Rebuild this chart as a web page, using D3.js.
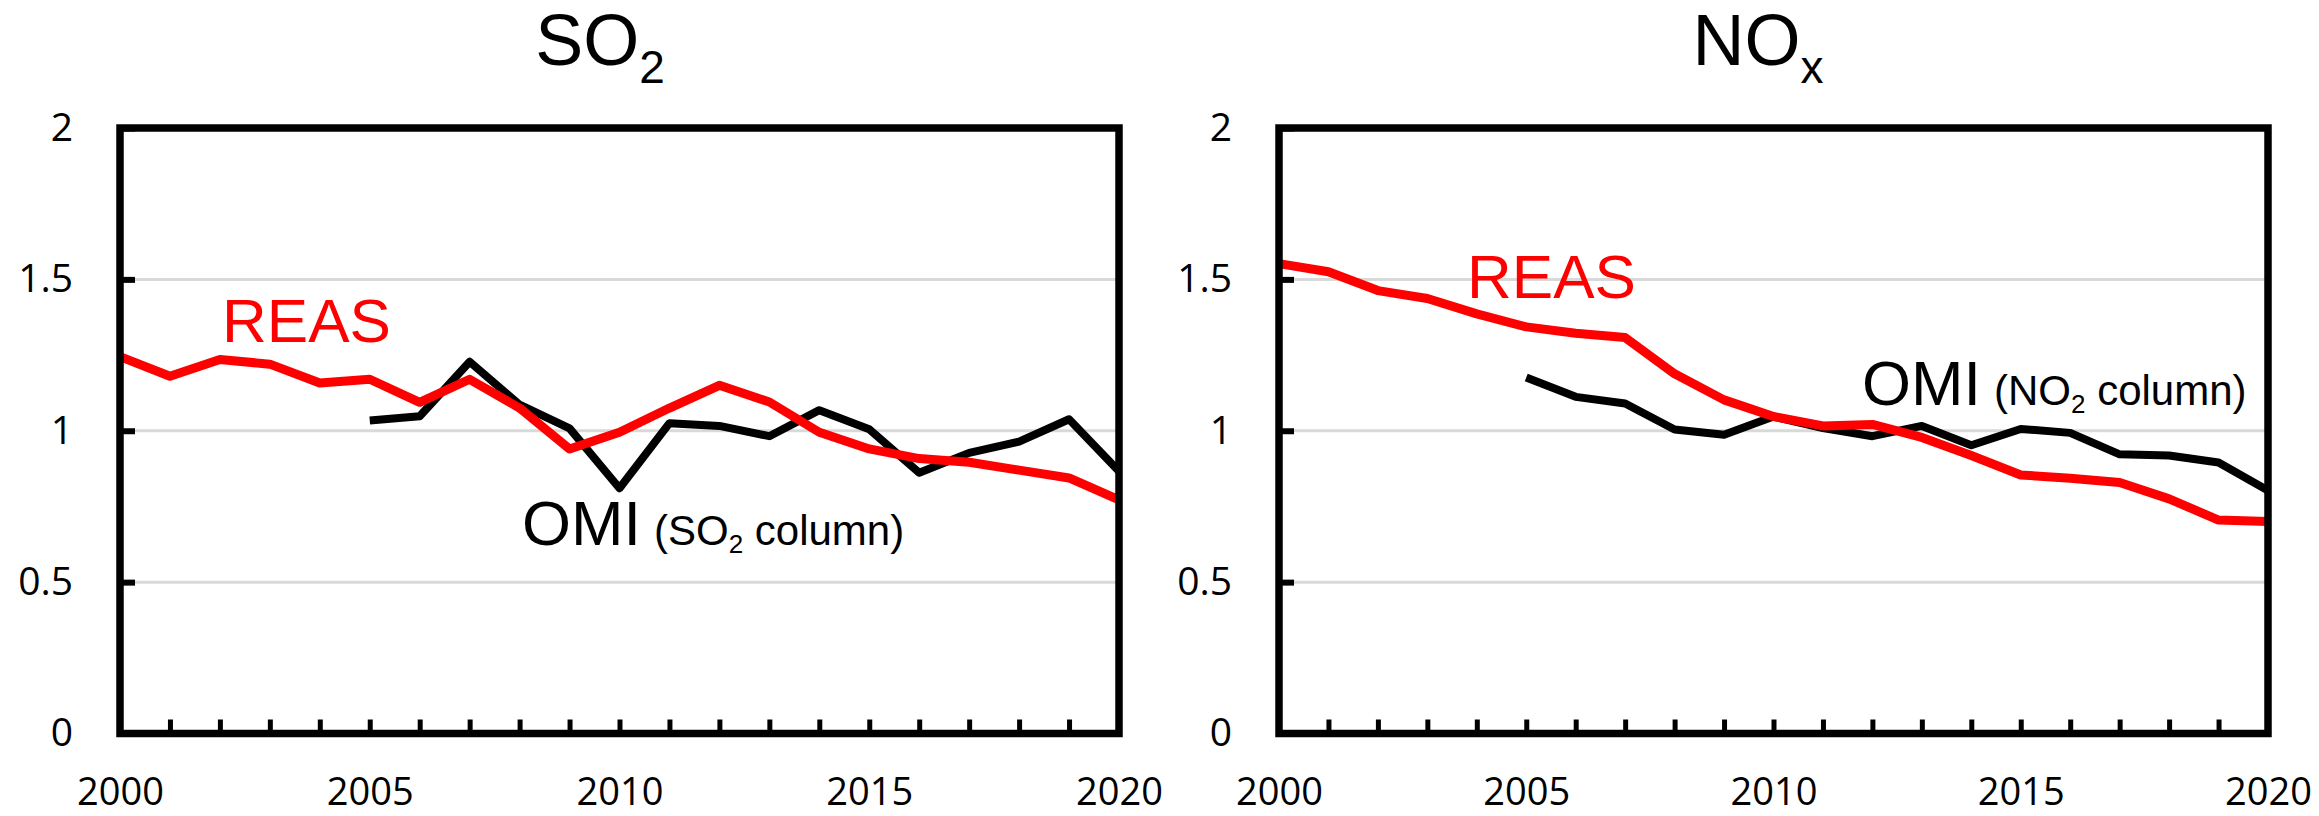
<!DOCTYPE html>
<html>
<head>
<meta charset="utf-8">
<script src="https://cdn.jsdelivr.net/npm/d3@7"></script>
<style>
  html, body { margin: 0; padding: 0; background: #fff; }
  svg { display: block; }
</style>
</head>
<body>
<svg id="chart" width="2319" height="816"></svg>
<script>
// Emission trend indices, 2000-2020
const years = [2000, 2001, 2002, 2003, 2004, 2005, 2006, 2007, 2008, 2009, 2010,
               2011, 2012, 2013, 2014, 2015, 2016, 2017, 2018, 2019, 2020];
const omiYears = [2005, 2006, 2007, 2008, 2009, 2010, 2011, 2012,
                  2013, 2014, 2015, 2016, 2017, 2018, 2019, 2020];

const so2Reas = [1.245, 1.180, 1.235, 1.220, 1.158, 1.170, 1.094, 1.170, 1.075, 0.940, 0.995,
                 1.075, 1.150, 1.095, 0.995, 0.940, 0.908, 0.896, 0.870, 0.844, 0.772];
const so2Omi  = [1.034, 1.048, 1.228, 1.086, 1.008, 0.810, 1.025, 1.016,
                 0.982, 1.068, 1.005, 0.861, 0.927, 0.964, 1.038, 0.866];

const noxReas = [1.552, 1.525, 1.463, 1.437, 1.386, 1.343, 1.322, 1.308, 1.188, 1.102, 1.047,
                 1.016, 1.021, 0.978, 0.918, 0.854, 0.843, 0.829, 0.775, 0.705, 0.700];
const noxOmi  = [1.176, 1.112, 1.090, 1.004, 0.987, 1.047, 1.009, 0.982,
                 1.016, 0.952, 1.006, 0.993, 0.922, 0.918, 0.895, 0.803];

const yTicks = [0, 0.5, 1, 1.5, 2];
const gridValues = [0.5, 1, 1.5];
const xLabelYears = [2000, 2005, 2010, 2015, 2020];

const svg = d3.select("#chart");
const SANS = "'Liberation Sans', Arial, sans-serif";
const TICKFONT = "'Open Sans', 'DejaVu Sans', sans-serif";

function drawPanel(opt) {
  const x = d3.scaleLinear().domain([2000, 2020]).range([opt.x0, opt.x1]);
  const y = d3.scaleLinear().domain([0, 2]).range([733.5, 128]);
  const g = svg.append("g");

  // horizontal gridlines
  g.append("g").selectAll("line").data(gridValues).join("line")
    .attr("x1", x(2000)).attr("x2", x(2020))
    .attr("y1", d => y(d)).attr("y2", d => y(d))
    .attr("stroke", "#d9d9d9").attr("stroke-width", 3);

  const line = d3.line().x(d => x(d[0])).y(d => y(d[1]));

  // satellite column series
  g.append("path")
    .datum(omiYears.map((yr, i) => [yr, opt.omi[i]]))
    .attr("d", line).attr("fill", "none")
    .attr("stroke", "#000").attr("stroke-width", 8)
    .attr("stroke-linejoin", "round").attr("stroke-linecap", "butt");

  // inventory series
  g.append("path")
    .datum(years.map((yr, i) => [yr, opt.reas[i]]))
    .attr("d", line).attr("fill", "none")
    .attr("stroke", "#ff0000").attr("stroke-width", 9)
    .attr("stroke-linejoin", "round").attr("stroke-linecap", "butt");

  // frame
  g.append("rect")
    .attr("x", x(2000)).attr("y", y(2))
    .attr("width", x(2020) - x(2000)).attr("height", y(0) - y(2))
    .attr("fill", "none").attr("stroke", "#000").attr("stroke-width", 7.5);

  // y axis: inward ticks and labels
  const yAxis = g.append("g").attr("transform", `translate(${x(2000)},0)`)
    .call(d3.axisLeft(y).tickValues(yTicks).tickFormat(d3.format("~g"))
      .tickSizeInner(-15).tickSizeOuter(0).tickPadding(47));
  yAxis.select(".domain").remove();
  yAxis.selectAll(".tick line").attr("stroke", "#000").attr("stroke-width", 6);
  yAxis.selectAll(".tick text").attr("font-family", TICKFONT).attr("font-size", 39).attr("fill", "#000");

  // x axis: yearly inward ticks
  const xMinor = g.append("g").attr("transform", `translate(0,${y(0)})`)
    .call(d3.axisBottom(x).tickValues(years).tickFormat("")
      .tickSizeInner(-14).tickSizeOuter(0));
  xMinor.select(".domain").remove();
  xMinor.selectAll(".tick line").attr("stroke", "#000").attr("stroke-width", 5);

  // x axis labels every five years
  const xLab = g.append("g").attr("transform", `translate(0,${y(0)})`)
    .call(d3.axisBottom(x).tickValues(xLabelYears).tickFormat(d3.format("d"))
      .tickSize(0).tickPadding(45));
  xLab.select(".domain").remove();
  xLab.selectAll(".tick text").attr("font-family", TICKFONT).attr("font-size", 38)
    .attr("fill", "#000").attr("dy", "0.7em");

  // panel title with subscript
  const t = svg.append("text").attr("x", opt.titleX).attr("y", 65)
    .attr("text-anchor", "middle").attr("font-family", SANS).attr("fill", "#000");
  t.append("tspan").attr("font-size", 72).text(opt.title);
  t.append("tspan").attr("font-size", 46).attr("dy", 18).text(opt.titleSub);

  // series labels
  svg.append("text").attr("x", opt.reasPos[0]).attr("y", opt.reasPos[1])
    .attr("font-family", SANS).attr("font-size", 62).attr("fill", "#ff0000").text("REAS");

  svg.append("text").attr("x", opt.omiPos[0]).attr("y", opt.omiPos[1])
    .attr("font-family", SANS).attr("font-size", 63).attr("fill", "#000").text("OMI");

  const c = svg.append("text").attr("x", opt.omiPos[0] + 132).attr("y", opt.omiPos[1])
    .attr("font-family", SANS).attr("font-size", 42).attr("fill", "#000");
  c.append("tspan").text(opt.columnName);
  c.append("tspan").attr("font-size", 26).attr("dy", 8).text("2");
  c.append("tspan").attr("dy", -8).text(" column)");
}

drawPanel({
  x0: 120, x1: 1119, title: "SO", titleSub: "2", titleX: 600,
  reas: so2Reas, omi: so2Omi,
  reasPos: [222, 342], omiPos: [522, 545], columnName: "(SO"
});

drawPanel({
  x0: 1279, x1: 2268, title: "NO", titleSub: "x", titleX: 1758,
  reas: noxReas, omi: noxOmi,
  reasPos: [1467, 298], omiPos: [1862, 405], columnName: "(NO"
});
</script>
</body>
</html>
